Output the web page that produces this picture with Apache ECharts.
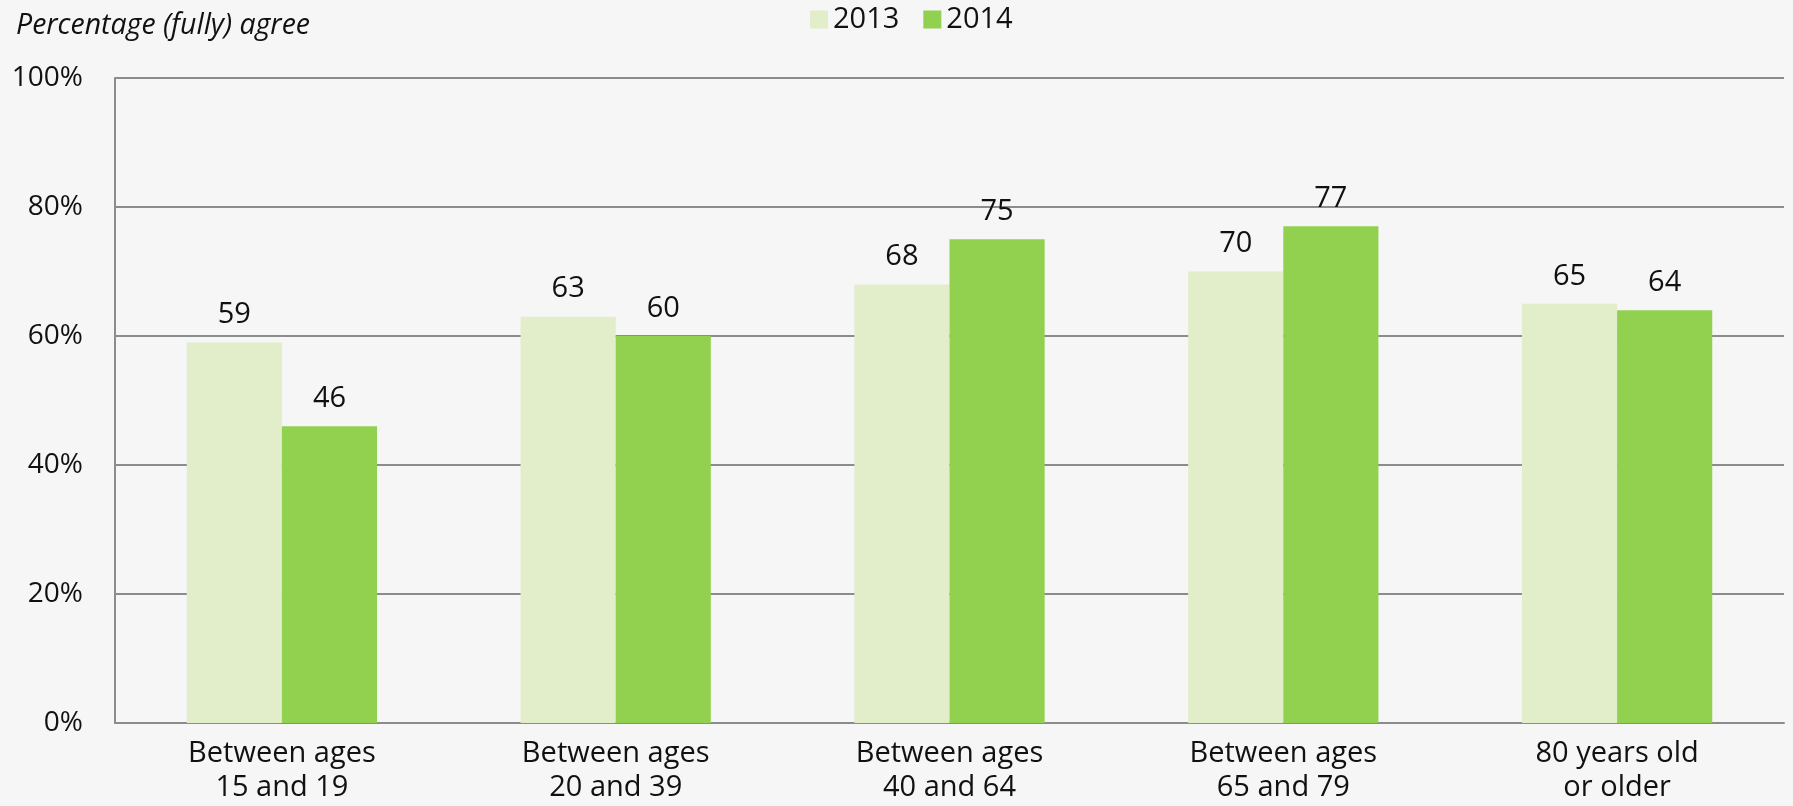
<!DOCTYPE html>
<html>
<head>
<meta charset="utf-8">
<script src="https://cdn.jsdelivr.net/npm/echarts@6/dist/echarts.min.js"></script>
<style>
  html, body { margin: 0; padding: 0; background: #f6f6f6; }
  #chart { width: 1793px; height: 806px; }
</style>
</head>
<body>
<div id="chart"></div>
<script>
const categories = ['Between ages\n15 and 19', 'Between ages\n20 and 39', 'Between ages\n40 and 64', 'Between ages\n65 and 79', '80 years old\nor older']
const values2013 = [59, 63, 68, 70, 65]
const values2014 = [46, 60, 75, 77, 64]
const yTicks = [0, 20, 40, 60, 80, 100]

const font = '"Open Sans", "Noto Sans", sans-serif'

const chart = echarts.init(document.getElementById('chart'))

const labelStyle = {
    show: true,
    position: 'top',
    distance: 13,
    color: '#111',
    fontFamily: font,
    fontSize: 29
}

chart.setOption({
    backgroundColor: '#f6f6f6',
    animation: false,
    title: {
        text: 'Percentage (fully) agree',
        left: 11,
        top: 6,
        textStyle: { fontFamily: font, fontStyle: 'italic', fontWeight: 'normal', fontSize: 28.5, color: '#111' }
    },
    legend: {
        data: ['2013', '2014'],
        left: 805,
        top: 0,
        itemWidth: 18,
        itemHeight: 18,
        itemGap: 24,
        icon: 'rect',
        textStyle: { fontFamily: font, fontSize: 29, color: '#111' }
    },
    grid: { left: 115, right: 9, top: 78, bottom: 83 },
    xAxis: {
        type: 'category',
        data: categories,
        axisLine: { show: true, lineStyle: { color: '#8c8c8c', width: 2 } },
        axisTick: { show: false },
        axisLabel: { color: '#111', fontFamily: font, fontSize: 29, lineHeight: 34, margin: 14, interval: 0 }
    },
    yAxis: {
        type: 'value',
        min: 0,
        max: 100,
        interval: 20,
        axisLine: { show: true, lineStyle: { color: '#8c8c8c', width: 2 } },
        axisTick: { show: false },
        splitLine: { lineStyle: { color: '#8c8c8c', width: 2 } },
        axisLabel: {
            color: '#111', fontFamily: font, fontSize: 28, margin: 32,
            formatter: v => yTicks.includes(v) ? v + '%' : ''
        }
    },
    series: [
        {
            name: '2013',
            type: 'bar',
            data: values2013,
            barWidth: '28.5%',
            barGap: '0%',
            itemStyle: { color: '#e2edca' },
            label: labelStyle
        },
        {
            name: '2014',
            type: 'bar',
            data: values2014,
            barWidth: '28.5%',
            itemStyle: { color: '#92d050' },
            label: labelStyle
        }
    ]
})
</script>
</body>
</html>
